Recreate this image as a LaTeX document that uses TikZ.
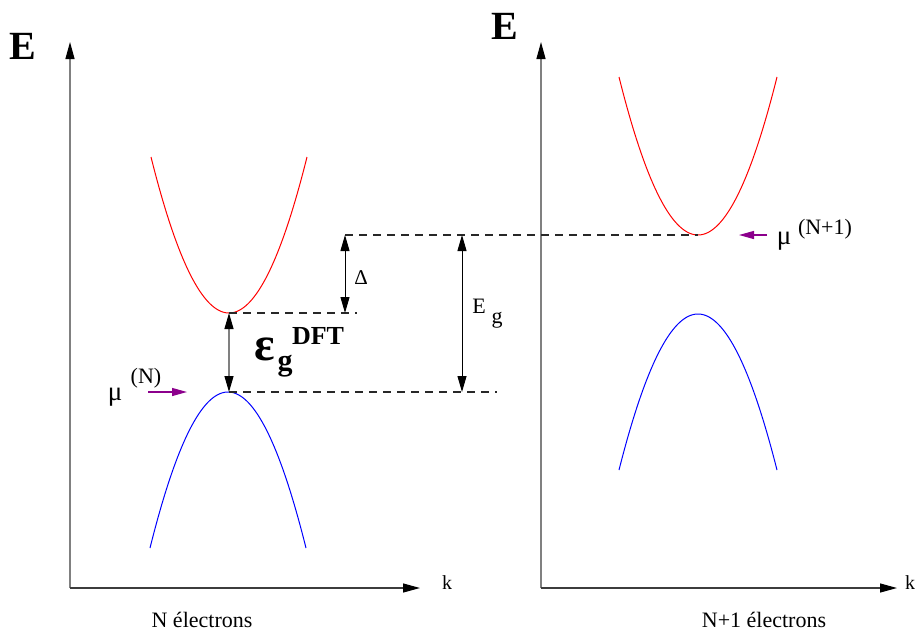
\documentclass[tikz,border=0pt]{standalone}
\usepackage{fontspec}
\setmainfont{Liberation Serif}
\usetikzlibrary{arrows.meta}
\definecolor{purp}{RGB}{140,0,140}
\definecolor{axgray}{RGB}{128,128,128}
\definecolor{axdark}{RGB}{60,60,60}
\definecolor{dashgray}{RGB}{40,40,40}
\tikzset{
  axisv/.style={draw=axgray,line width=1.2pt,-{Triangle[length=17pt,width=9pt,color=black]}},
  axish/.style={draw=axdark,line width=1.2pt,-{Triangle[length=17pt,width=9pt,color=black]}},
  band/.style={line width=1pt},
  guide/.style={draw=dashgray,line width=1.1pt,dash pattern=on 8pt off 6pt},
  dim/.style={draw=black,line width=1pt,{Triangle[length=16pt,width=9pt]}-{Triangle[length=16pt,width=9pt]}},
  gapar/.style={draw=axgray,line width=1.2pt,{Triangle[length=16pt,width=9pt,color=black]}-{Triangle[length=16pt,width=9pt,color=black]}},
  muar/.style={draw=purp,line width=1.2pt,-{Triangle[length=15pt,width=8pt]}},
  lab/.style={inner sep=0pt,font=\fontsize{22}{26}\selectfont},
  mulab/.style={inner sep=0pt,font=\fontsize{27}{30}\selectfont},
  klab/.style={inner sep=0pt,font=\fontsize{20}{24}\selectfont},
  bigE/.style={inner sep=0pt,font=\bfseries\fontsize{40}{44}\selectfont},
}
\begin{document}
\begin{tikzpicture}[x=1pt,y=-1pt]
\useasboundingbox (0,0) rectangle (916,632);
% axes
\coordinate (oL) at (70,588);
\coordinate (tL) at (70,42);
\coordinate (rL) at (420,588);
\coordinate (oR) at (541,588);
\coordinate (tR) at (541,42);
\coordinate (rR) at (897,588);
\draw[axisv] (oL) -- (tL);
\draw[axish] (oL) -- (rL);
\draw[axisv] (oR) -- (tR);
\draw[axish] (oR) -- (rR);
\node[bigE] (EL) at (23,46) {E};
\node[bigE] (ER) at (505,26) {E};
\node[klab] (kL) at (447,583) {k};
\node[klab] (kR) at (910,583) {k};
\node[lab] (nL) at (202,620) {N électrons};
\node[lab] (nR) at (764,620) {N+1 électrons};
% bands
\draw[band,red] plot[domain=-78:78,samples=80] ({229+\x},{313-156*(\x/78)^2});
\draw[band,blue] plot[domain=-78:78,samples=80] ({228+\x},{392+156*(\x/78)^2});
\draw[band,red] plot[domain=-79:79,samples=80] ({698+\x},{235-158*(\x/79)^2});
\draw[band,blue] plot[domain=-79:79,samples=80] ({698+\x},{314+156*(\x/79)^2});
% key levels
\coordinate (cL) at (229,313);
\coordinate (vL) at (229,392);
\coordinate (cR) at (698,235);
\coordinate (dTop) at (345,235);
\coordinate (dBot) at (345,313);
\coordinate (dEnd) at (357,313);
\coordinate (gTop) at (462,235);
\coordinate (gBot) at (462,392);
\coordinate (vEnd) at (497,392);
\draw[guide] (cL) -- (dEnd);
\draw[guide] (vL) -- (vEnd);
\draw[guide] (dTop) -- (cR);
\draw[dim] (dTop) -- (dBot);
\draw[dim] (gTop) -- (gBot);
\draw[gapar] (cL) -- (vL);
\node[inner sep=0pt,font=\fontsize{21}{24}\selectfont] (delta) at (361,278) {Δ};
\node[lab] (Eg) at (479,306) {E};
\node[lab] (Egs) at (497,320) {g};
% epsilon gap label
\node[inner sep=0pt,font=\bfseries\fontsize{48}{52}\selectfont] (eps) at (265,349) {ε};
\node[inner sep=0pt,font=\bfseries\fontsize{30}{34}\selectfont] (epsg) at (285,366) {g};
\node[inner sep=0pt,font=\bfseries\fontsize{26}{30}\selectfont] (epsD) at (318,336) {DFT};
% chemical potentials
\coordinate (muLa) at (148,392);
\coordinate (muLb) at (187,392);
\draw[muar] (muLa) -- (muLb);
\node[mulab] (muL) at (115,397) {μ};
\node[lab] (muLs) at (146,378) {(N)};
\coordinate (muRa) at (767,235);
\coordinate (muRb) at (739,235);
\draw[muar] (muRa) -- (muRb);
\node[mulab] (muR) at (784,241) {μ};
\node[lab] (muRs) at (825,229) {(N+1)};
\end{tikzpicture}
\end{document}
